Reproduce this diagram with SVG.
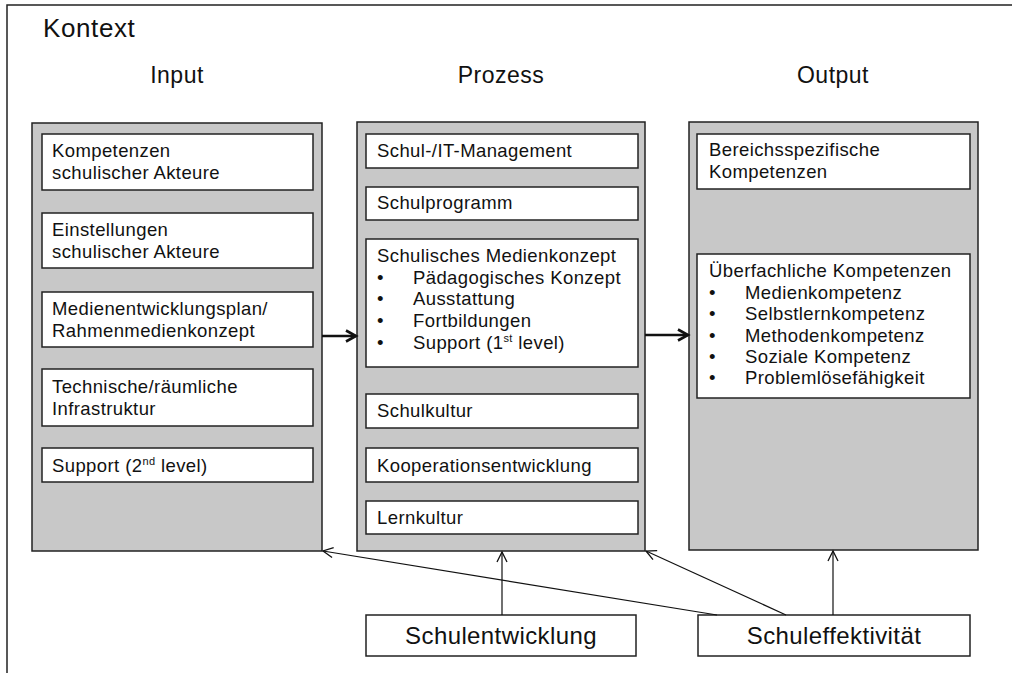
<svg xmlns="http://www.w3.org/2000/svg" width="1012" height="673" viewBox="0 0 1012 673">
<style>
text{font-family:"Liberation Sans",Arial,sans-serif;fill:#111;}
.t{font-size:18.5px;letter-spacing:0.4px;}
.h{font-size:23px;letter-spacing:0.5px;text-anchor:middle;}
.title{font-size:26px;letter-spacing:0.6px;}
.big{font-size:24px;letter-spacing:0.4px;text-anchor:middle;}
.panel{fill:#c8c8c8;stroke:#222;stroke-width:1.5;}
.box{fill:#fff;stroke:#222;stroke-width:1.5;}
.thin{stroke:#111;stroke-width:1.2;fill:none;}
.thick{stroke:#111;stroke-width:2.4;fill:none;}
.sup{font-size:11px;}
</style>
<defs>
<marker id="openThin" markerUnits="userSpaceOnUse" markerWidth="14" markerHeight="14" refX="10" refY="5" orient="auto" overflow="visible">
<path d="M0,0 L10,5 L0,10" fill="none" stroke="#111" stroke-width="1.3"/>
</marker>
<marker id="openThick" markerUnits="userSpaceOnUse" markerWidth="16" markerHeight="16" refX="11" refY="6" orient="auto" overflow="visible">
<path d="M1,0.5 L11,6 L1,11.5" fill="none" stroke="#111" stroke-width="2.6"/>
</marker>
</defs>
<rect width="1012" height="673" fill="#fff"/>
<path d="M7,673 V5 H1012" fill="none" stroke="#222" stroke-width="1.5"/>
<text class="title" x="43" y="37">Kontext</text>
<text class="h" x="177" y="83">Input</text>
<text class="h" x="501" y="83">Prozess</text>
<text class="h" x="833" y="83">Output</text>

<g id="input">
<rect class="panel" x="32" y="123" width="290" height="428"/>
<g id="in1"><rect class="box" x="42" y="134" width="271" height="56"/>
<text class="t" x="52" y="157">Kompetenzen</text><text class="t" x="52" y="179">schulischer Akteure</text></g>
<g id="in2"><rect class="box" x="42" y="213" width="271" height="55"/>
<text class="t" x="52" y="236">Einstellungen</text><text class="t" x="52" y="258">schulischer Akteure</text></g>
<g id="in3"><rect class="box" x="42" y="292" width="271" height="55"/>
<text class="t" x="52" y="315">Medienentwicklungsplan/</text><text class="t" x="52" y="337">Rahmenmedienkonzept</text></g>
<g id="in4"><rect class="box" x="42" y="369" width="271" height="57"/>
<text class="t" x="52" y="393">Technische/räumliche</text><text class="t" x="52" y="415">Infrastruktur</text></g>
<g id="in5"><rect class="box" x="42" y="448" width="271" height="34"/>
<text class="t" x="52" y="472">Support (2<tspan class="sup" dy="-7">nd</tspan><tspan dy="7"> level)</tspan></text></g>
</g>

<g id="prozess">
<rect class="panel" x="357" y="122" width="288" height="429"/>
<g id="p1"><rect class="box" x="366" y="134" width="272" height="34"/>
<text class="t" x="377" y="157">Schul-/IT-Management</text></g>
<g id="p2"><rect class="box" x="366" y="187" width="272" height="33"/>
<text class="t" x="377" y="209">Schulprogramm</text></g>
<g id="p3"><rect class="box" x="366" y="239" width="272" height="128"/>
<text class="t" x="377" y="262">Schulisches Medienkonzept</text>
<text class="t" x="377" y="284">•</text><text class="t" x="413" y="284">Pädagogisches Konzept</text>
<text class="t" x="377" y="305">•</text><text class="t" x="413" y="305">Ausstattung</text>
<text class="t" x="377" y="327">•</text><text class="t" x="413" y="327">Fortbildungen</text>
<text class="t" x="377" y="349">•</text><text class="t" x="413" y="349">Support (1<tspan class="sup" dy="-7">st</tspan><tspan dy="7"> level)</tspan></text></g>
<g id="p4"><rect class="box" x="366" y="394" width="272" height="34"/>
<text class="t" x="377" y="417">Schulkultur</text></g>
<g id="p5"><rect class="box" x="366" y="448" width="272" height="34"/>
<text class="t" x="377" y="472">Kooperationsentwicklung</text></g>
<g id="p6"><rect class="box" x="366" y="501" width="272" height="33"/>
<text class="t" x="377" y="524">Lernkultur</text></g>
</g>

<g id="output">
<rect class="panel" x="689" y="122" width="289" height="428"/>
<g id="o1"><rect class="box" x="697" y="134" width="273" height="55"/>
<text class="t" x="709" y="156">Bereichsspezifische</text><text class="t" x="709" y="178">Kompetenzen</text></g>
<g id="o2"><rect class="box" x="697" y="254" width="273" height="144"/>
<text class="t" x="709" y="277">Überfachliche Kompetenzen</text>
<text class="t" x="709" y="299">•</text><text class="t" x="745" y="299">Medienkompetenz</text>
<text class="t" x="709" y="320">•</text><text class="t" x="745" y="320">Selbstlernkompetenz</text>
<text class="t" x="709" y="342">•</text><text class="t" x="745" y="342">Methodenkompetenz</text>
<text class="t" x="709" y="363">•</text><text class="t" x="745" y="363">Soziale Kompetenz</text>
<text class="t" x="709" y="384">•</text><text class="t" x="745" y="384">Problemlösefähigkeit</text></g>
</g>

<g id="schulentwicklung"><rect class="box" x="366" y="615" width="270" height="41"/>
<text class="big" x="501" y="644">Schulentwicklung</text></g>
<g id="schuleffektivitaet"><rect class="box" x="698" y="615" width="272" height="41"/>
<text class="big" x="834" y="644">Schuleffektivität</text></g>

<g id="connectors">
<line class="thick" x1="322" y1="336" x2="356" y2="336" marker-end="url(#openThick)"/>
<line class="thick" x1="645" y1="335" x2="688" y2="335" marker-end="url(#openThick)"/>
<line class="thin" x1="502" y1="615" x2="502" y2="552" marker-end="url(#openThin)"/>
<line class="thin" x1="717" y1="615" x2="323" y2="551" marker-end="url(#openThin)"/>
<line class="thin" x1="786" y1="615" x2="646" y2="551" marker-end="url(#openThin)"/>
<line class="thin" x1="833" y1="615" x2="833" y2="551" marker-end="url(#openThin)"/>
</g>
</svg>
